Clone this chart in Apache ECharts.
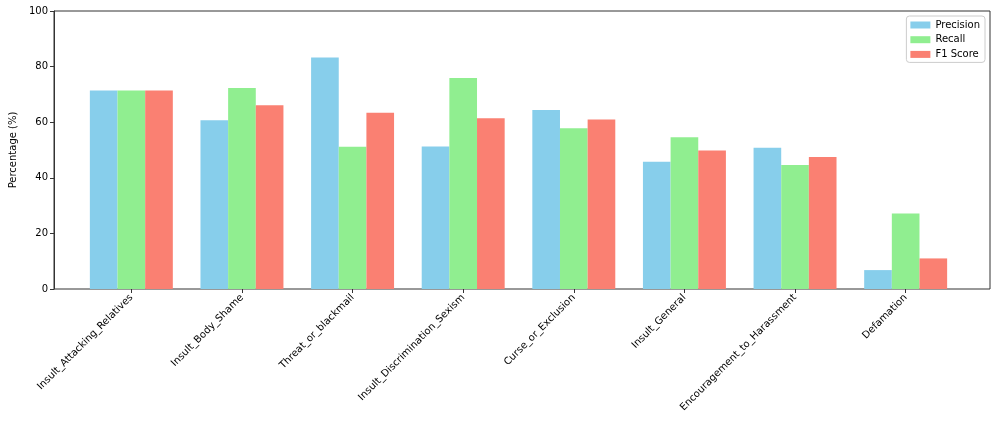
<!DOCTYPE html>
<html>
<head>
<meta charset="utf-8">
<script src="https://cdn.jsdelivr.net/npm/echarts@6/dist/echarts.min.js"></script>
<style>html,body{margin:0;padding:0;background:#fff}#c{width:997px;height:423px}</style>
</head>
<body>
<div id="c"></div>
<script>
const categories = ["Insult_Attacking_Relatives","Insult_Body_Shame","Threat_or_blackmail","Insult_Discrimination_Sexism","Curse_or_Exclusion","Insult_General","Encouragement_to_Harassment","Defamation"];
const precision = [71.4, 60.7, 83.3, 51.3, 64.4, 45.8, 50.8, 6.8];
const recall = [71.4, 72.3, 51.2, 75.9, 57.8, 54.6, 44.6, 27.2];
const f1 = [71.4, 66.1, 63.4, 61.4, 61.0, 49.8, 47.5, 11.0];
const yTicks = [0, 20, 40, 60, 80, 100];

const font = "DejaVu Sans";
const L = 47, R = 990, T = 11, B = 289;
const n = categories.length;
// matplotlib-like x limits: -0.7625 .. n-1+0.7625
const span = (n - 1) + 2 * 0.7625;
const unit = (R - L) / span;
const gLeft = L + (0.7625 - 0.5) * unit;
const gWidth = n * unit;

const chart = echarts.init(document.getElementById('c'));
chart.setOption({
  animation: false,
  textStyle: {fontFamily: font},
  grid: [
    {left: L, top: T, width: R - L, height: B - T, show: true, borderColor: '#333', borderWidth: 1, backgroundColor: 'transparent'},
    {left: gLeft, top: T, width: gWidth, height: B - T}
  ],
  legend: {
    orient: 'vertical', right: 12, top: 16,
    icon: 'rect',
    itemWidth: 20, itemHeight: 7, itemGap: 4.7,
    padding: [4, 5, 3, 4],
    backgroundColor: '#fff', borderColor: '#ccc', borderWidth: 1, borderRadius: 3,
    textStyle: {fontFamily: font, fontSize: 10, color: '#000'},
    data: ['Precision', 'Recall', 'F1 Score']
  },
  xAxis: [
    {type: 'value', gridIndex: 0, min: 0, max: 1, show: false},
    {type: 'category', gridIndex: 1, data: categories,
      axisLine: {show: false},
      axisTick: {show: true, alignWithLabel: true, length: 4, lineStyle: {color: '#333'}},
      axisLabel: {rotate: 45, fontFamily: font, fontSize: 10, color: '#000', margin: 7, interval: 0},
      splitLine: {show: false}}
  ],
  yAxis: [
    {type: 'value', gridIndex: 0, min: 0, max: 100, interval: 20,
      name: 'Percentage (%)', nameLocation: 'middle', nameGap: 36,
      nameTextStyle: {fontFamily: font, fontSize: 10, color: '#000'},
      axisLine: {show: true, lineStyle: {color: '#333'}},
      axisTick: {show: true, length: 4, lineStyle: {color: '#333'}},
      axisLabel: {fontFamily: font, fontSize: 10, color: '#000', margin: 6},
      splitLine: {show: false}},
    {type: 'value', gridIndex: 1, min: 0, max: 100, show: false, splitLine: {show: false}}
  ],
  series: [
    {name: 'Precision', type: 'bar', xAxisIndex: 1, yAxisIndex: 1, data: precision, barWidth: '25%', barGap: '0%', itemStyle: {color: '#87CEEB'}},
    {name: 'Recall', type: 'bar', xAxisIndex: 1, yAxisIndex: 1, data: recall, barWidth: '25%', barGap: '0%', itemStyle: {color: '#90EE90'}},
    {name: 'F1 Score', type: 'bar', xAxisIndex: 1, yAxisIndex: 1, data: f1, barWidth: '25%', barGap: '0%', itemStyle: {color: '#FA8072'}}
  ]
});
</script>
</body>
</html>
